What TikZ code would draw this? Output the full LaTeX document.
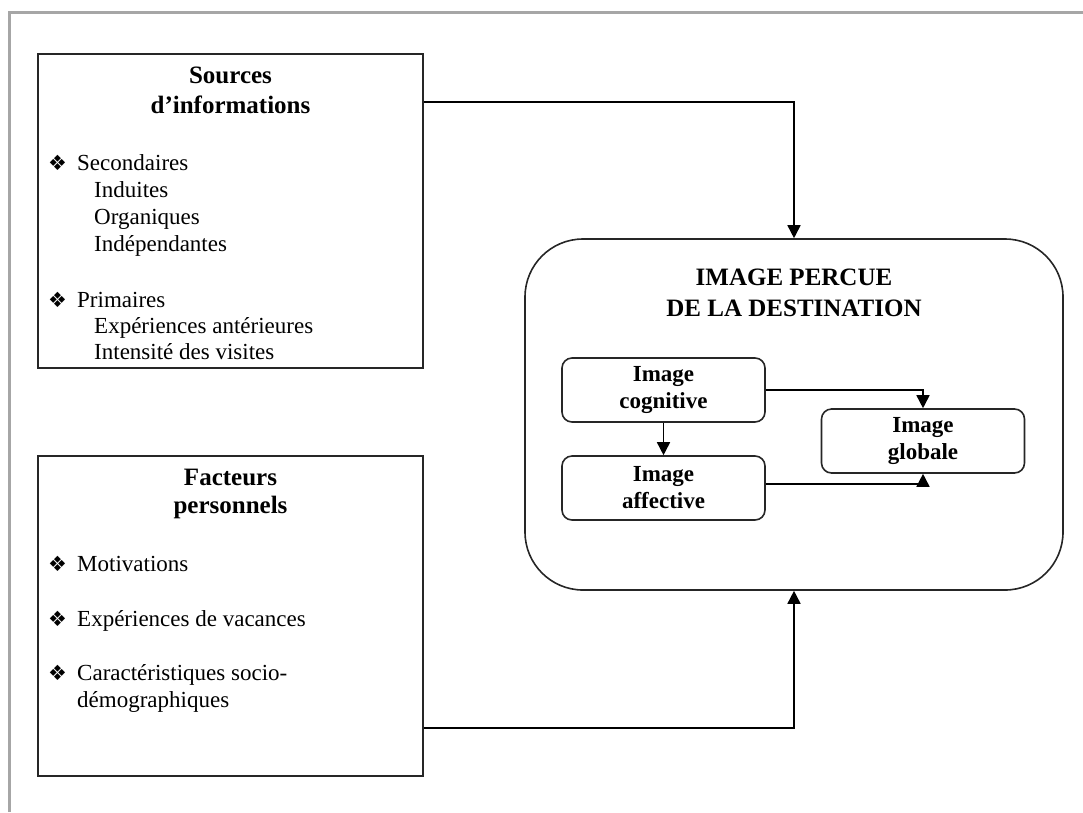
\documentclass[tikz,border=0pt]{standalone}
\usepackage{fontspec}
\setmainfont{Liberation Serif}
\newfontfamily\dejavu{DejaVu Sans}
\usetikzlibrary{arrows.meta}
\tikzset{
  box/.style={draw=black!85, line width=1.6pt, rectangle, inner sep=0pt},
  rbox/.style={draw=black!85, line width=1.6pt, rectangle, rounded corners=10pt, inner sep=0pt,
    minimum width=203pt, minimum height=64pt, align=center,
    font=\bfseries\fontsize{23}{27}\selectfont},
  arr/.style={draw=black, line width=1.6pt, -{Triangle[width=13pt,length=13pt]}},
  head/.style={anchor=base, font=\bfseries\fontsize{25}{30}\selectfont, inner sep=0pt},
  item/.style={anchor=base west, font=\fontsize{23}{27}\selectfont, inner sep=0pt},
  bul/.style={anchor=base west, font=\dejavu\fontsize{21}{24}\selectfont, inner sep=0pt},
}
\begin{document}
\begin{tikzpicture}[x=1pt,y=-1pt]
\useasboundingbox (0,0) rectangle (1083,812);
\draw[black!35, line width=3pt] (9,812) -- (9,12) -- (1083,12);

% boxes
\node[box, minimum width=385pt, minimum height=314pt] (src) at (230.5,211) {};
\node[box, minimum width=385pt, minimum height=320pt] (fac) at (230.5,616) {};
\node[draw=black!85, line width=1.6pt, rectangle, rounded corners=58pt, minimum width=538pt, minimum height=351pt, inner sep=0pt] (img) at (794,414.5) {};

% Sources
\node[head] (s1) at (230.5,83) {Sources};
\node[head] (s2) at (230.5,113) {d’informations};
\node[bul] (b1) at (48,170) {❖};
\node[item] (t1) at (77,170) {Secondaires};
\node[item] (t2) at (94,197) {Induites};
\node[item] (t3) at (94,224) {Organiques};
\node[item] (t4) at (94,251) {Indépendantes};
\node[bul] (b2) at (48,307) {❖};
\node[item] (t5) at (77,307) {Primaires};
\node[item] (t6) at (94,333) {Expériences antérieures};
\node[item] (t7) at (94,359) {Intensité des visites};

% Facteurs
\node[head] (f1) at (230.5,485) {Facteurs};
\node[head] (f2) at (230.5,513) {personnels};
\node[bul] (b3) at (48,571) {❖};
\node[item] (u1) at (77,571) {Motivations};
\node[bul] (b4) at (48,626) {❖};
\node[item] (u2) at (77,626) {Expériences de vacances};
\node[bul] (b5) at (48,680) {❖};
\node[item] (u3) at (77,680) {Caractéristiques socio-};
\node[item] (u4) at (77,707) {démographiques};

% Image title
\node[head] (i1) at (794,285) {IMAGE PERCUE};
\node[head] (i2) at (794,316) {DE LA DESTINATION};

% inner boxes
\node[rbox] (cog) at (663.5,390) {Image\\cognitive};
\node[rbox] (aff) at (663.5,488) {Image\\affective};
\node[rbox] (glo) at (923,441) {Image\\globale};

% connectors
\draw[arr] ([yshift=-49pt]src.north east) -| (img.north);
\draw[arr] ([yshift=49pt]fac.south east) -| (img.south);
\draw[arr] (cog.south) -- (aff.north);
\draw[arr] (cog.east) -| (glo.north);
\draw[arr] ([yshift=4pt]aff.east) -| (glo.south);
\end{tikzpicture}
\end{document}
